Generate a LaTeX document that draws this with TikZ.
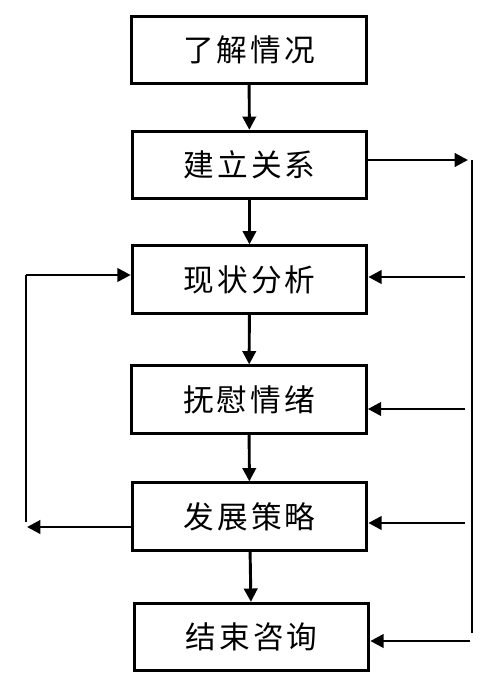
\documentclass[tikz,border=0pt]{standalone}
\usepackage{fontspec}
\newfontfamily\cjk[LetterSpace=10]{Noto Sans CJK SC}
\usetikzlibrary{arrows.meta}

\tikzset{every picture/.style={line width=2.2pt}}
\tikzset{stepbox/.style={draw, line width=2.2pt, minimum width=176pt, minimum height=50.5pt, inner sep=0pt, font=\cjk\fontsize{23}{27}\selectfont}}
\tikzset{arr/.style={line width=2.2pt, -{Triangle[length=10pt,width=10pt]}}}
\tikzset{wire/.style={line width=2.2pt}}

\begin{document}
\begin{tikzpicture}[x=0.75pt,y=0.75pt,yscale=-1,xscale=1]
	\useasboundingbox (0,0) rectangle (486,680);

	% Text Node
	\node [stepbox] (know) at (249,50) {了解情况};
	% Text Node
	\node [stepbox] (build) at (249.5,165) {建立关系};
	% Text Node
	\node [stepbox] (state) at (249.5,279.5) {现状分析};
	% Text Node
	\node [stepbox] (soothe) at (249,399.5) {抚慰情绪};
	% Text Node
	\node [stepbox] (plan) at (249.5,516.5) {发展策略};
	% Text Node
	\node [stepbox] (close) at (251.5,637) {结束咨询};

	%Straight Lines
	\draw [arr] (know) -- (build);
	\draw [arr] (build) -- (state);
	\draw [arr] (state) -- (soothe);
	\draw [arr] (soothe) -- (plan);
	\draw [arr] (plan) -- (close);

	% right return line
	\coordinate (rtip) at (468,160);
	\coordinate (rtop) at (472,160);
	\coordinate (rbot) at (472,633);
	\draw [arr] (build.east |- rtip) -- (rtip);
	\draw [wire] (rtop) -- (rbot);
	\coordinate (r3) at (465,277);
	\coordinate (r4) at (465,409);
	\coordinate (r5) at (465,523);
	\coordinate (r6) at (470,641);
	\draw [arr] (r3) -- (state.east |- r3);
	\draw [arr] (r4) -- (soothe.east |- r4);
	\draw [arr] (r5) -- (plan.east |- r5);
	\draw [arr] (r6) -- (close.east |- r6);

	% left loop
	\coordinate (ltip) at (27,527);
	\coordinate (lbot) at (26,522);
	\coordinate (ltop) at (26,275);
	\draw [arr] (plan.west |- ltip) -- (ltip);
	\draw [wire] (lbot) -- (ltop);
	\draw [arr] (ltop) -- (state.west |- ltop);

\end{tikzpicture}
\end{document}
